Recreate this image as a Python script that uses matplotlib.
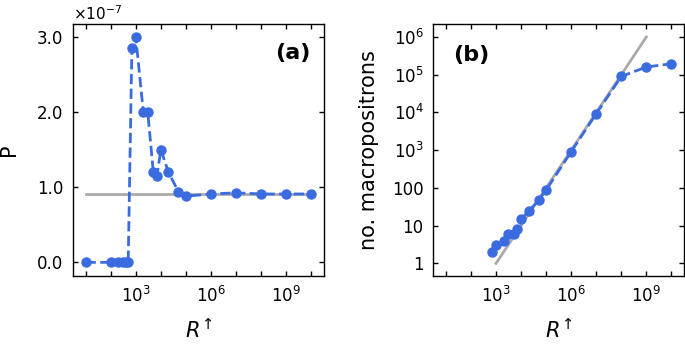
import numpy as np
import matplotlib
matplotlib.use('Agg')
import matplotlib.pyplot as plt
from matplotlib.ticker import ScalarFormatter, FixedLocator, FuncFormatter, NullLocator

# panel (a): P against R
R_a = [10, 100, 200, 300, 400, 500, 700, 1e3, 2e3, 3e3, 5e3, 7e3,
       1e4, 2e4, 5e4, 1e5, 1e6, 1e7, 1e8, 1e9, 1e10]
P_a = [0, 0, 0, 0, 0, 0, 2.85e-7, 3.0e-7, 2.0e-7, 2.0e-7, 1.2e-7, 1.15e-7,
       1.5e-7, 1.2e-7, 0.94e-7, 0.88e-7, 0.91e-7, 0.925e-7, 0.91e-7, 0.91e-7, 0.91e-7]
ref_a_R = [10, 1e10]
ref_a_P = [0.91e-7, 0.91e-7]

# panel (b): number of macropositrons
R_b = [700, 1e3, 2e3, 3e3, 5e3, 7e3, 1e4, 2e4, 5e4, 1e5, 1e6, 1e7, 1e8, 1e9, 1e10]
N_b = [2, 3, 4, 6, 6, 8, 15, 24, 47, 88, 910, 9250, 90000, 160000, 195000]
ref_b_R = [1e3, 1e9]
ref_b_N = [1, 1e6]

blue = '#3a6ce0'
grey = '#aaaaaa'


class OneDecimal(ScalarFormatter):
    def _set_format(self):
        self.format = '%1.1f'


def xlabel_fmt(v, pos):
    e = int(round(np.log10(v)))
    if e in (3, 6, 9):
        return r'$10^{%d}$' % e
    return ''


def ylabel_fmt_b(v, pos):
    e = int(round(np.log10(v)))
    if e <= 2:
        return '%d' % round(v)
    return r'$10^{%d}$' % e


fig = plt.figure(figsize=(6.85, 3.44), dpi=100)
ax1 = fig.add_axes([0.1066, 0.198, 0.3664, 0.732])
ax2 = fig.add_axes([0.6326, 0.198, 0.3659, 0.732])

for ax in (ax1, ax2):
    ax.set_xscale('log')
    ax.set_xlim(10**0.5, 10**10.5)
    ax.xaxis.set_major_locator(FixedLocator([10.0**k for k in range(1, 11)]))
    ax.xaxis.set_major_formatter(FuncFormatter(xlabel_fmt))
    ax.xaxis.set_minor_locator(NullLocator())
    ax.tick_params(direction='in', top=True, right=True, length=3.5, width=1,
                   labelsize=12)
    ax.tick_params(axis='x', pad=7)
    ax.tick_params(axis='y', pad=7)
    for s in ax.spines.values():
        s.set_linewidth(1)
    ax.set_xlabel(r'$R^{\!\uparrow}$', fontsize=15, labelpad=9)

# (a)
ax1.plot(ref_a_R, ref_a_P, color=grey, lw=2, zorder=1)
ax1.plot(R_a, P_a, '--o', color=blue, lw=2, ms=6.5, zorder=2)
ax1.set_ylim(-0.18e-7, 3.17e-7)
ax1.set_yticks([0, 1e-7, 2e-7, 3e-7])
fmt = OneDecimal(useMathText=True)
fmt.set_powerlimits((0, 0))
ax1.yaxis.set_major_formatter(fmt)
ax1.yaxis.get_offset_text().set_fontsize(11)
ax1.set_ylabel('P', fontsize=15, labelpad=13)
ax1.text(0.875, 0.885, '(a)', transform=ax1.transAxes, fontsize=16,
         fontweight='bold', ha='center', va='center')

# (b)
ax2.plot(ref_b_R, ref_b_N, color=grey, lw=2, zorder=1)
ax2.plot(R_b, N_b, '--o', color=blue, lw=2, ms=6.5, zorder=2)
ax2.set_yscale('log')
ax2.set_ylim(10**-0.33, 10**6.34)
ax2.yaxis.set_major_locator(FixedLocator([10.0**k for k in range(0, 7)]))
ax2.yaxis.set_major_formatter(FuncFormatter(ylabel_fmt_b))
ax2.yaxis.set_minor_locator(NullLocator())
ax2.set_ylabel('no. macropositrons', fontsize=15, labelpad=9)
ax2.text(0.15, 0.877, '(b)', transform=ax2.transAxes, fontsize=16,
         fontweight='bold', ha='center', va='center')

fig.savefig('out.png', dpi=100)
